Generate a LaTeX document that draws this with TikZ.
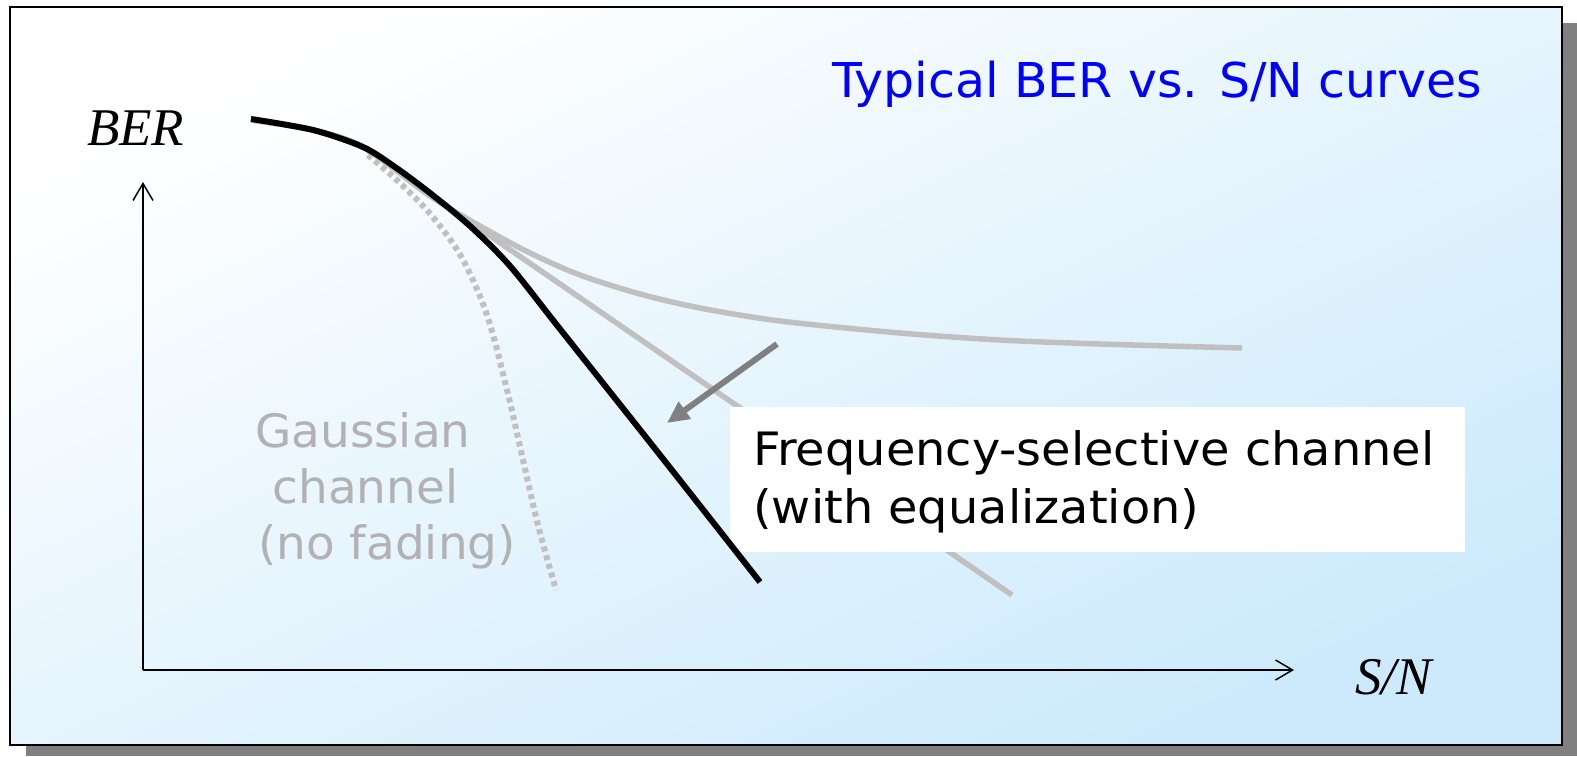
\documentclass[tikz,border=0pt]{standalone}
\usepackage{fontspec}
\usetikzlibrary{arrows.meta}
\newfontfamily\verd{DejaVu Sans}
\newfontfamily\tms{Liberation Serif}
\definecolor{bgblue}{RGB}{204,234,252}
\definecolor{curvegray}{RGB}{192,192,192}
\definecolor{textgray}{RGB}{178,178,178}
\definecolor{arrgray}{RGB}{128,128,128}
\definecolor{shadowgray}{RGB}{128,128,128}
\tikzset{
  axisline/.style={line width=1.5pt, -{Straight Barb[length=17pt,width=20pt]}},
  graycurve/.style={curvegray, line width=5.5pt},
  axislabel/.style={font=\tms\itshape\fontsize{53}{60}\selectfont, anchor=base west, inner sep=0pt},
}
\begin{document}
\begin{tikzpicture}[x=1pt,y=-1pt]
\useasboundingbox (0,0) rectangle (1577,756);
% shadow and panel
\fill[shadowgray] (26,23) rectangle (1577,756);
\draw[line width=2pt, top color=white, bottom color=bgblue, shading angle=25] (10,7) rectangle (1562,745);
% title
\node[anchor=base west, inner sep=0pt, text=blue, font=\verd\fontsize{48}{56}\selectfont, xscale=1.02] (title) at (832,97.7) {Typical BER vs. S/N curves};
% axes
\coordinate (O) at (143,670);
\coordinate (Ytip) at (143,182);
\coordinate (Xtip) at (1294,670);
\draw[axisline] (O) -- (Ytip);
\draw[axisline] (O) -- (Xtip);
\node[axislabel] (ber) at (87,145) {BER};
\node[axislabel] (sn) at (1355,694) {S/N};
% gray curves
\draw[graycurve] plot[smooth, tension=0.5] coordinates {(251,120) (313,130) (363,147) (430,196) (480,226) (530,253) (580,275) (640,294) (700,308) (780,321) (900,333) (1000,340) (1100,344) (1242,348)};
\draw[graycurve] plot[smooth, tension=0.5] coordinates {(251,120) (313,130) (363,147) (430,195) (480,229) (560,284) (650,346) (1012,595)};
\draw[graycurve, line width=6pt, dash pattern=on 5pt off 4pt] plot[smooth, tension=0.55] coordinates {(368,155) (400,183) (432,216) (462,258) (487,315) (507,390) (523,460) (538,525) (556,590)};
% label box
\fill[white] (730,407) rectangle (1465,552);
\node[anchor=base west, inner sep=0pt, font=\verd\fontsize{46}{58}\selectfont, xscale=1.04] (fsc) at (753,465)
  {\begin{tabular}[t]{@{}l@{}}Frequency-selective channel\\(with equalization)\end{tabular}};
% black curve
\draw[black, line width=6pt] plot[smooth, tension=0.5] coordinates {(251,119) (313,130) (363,147) (395,167) (430,193) (470,226) (510,266) (560,329) (660,455) (760,582)};
% arrow
\coordinate (arrS) at (777,344);
\coordinate (arrE) at (667,423);
\draw[arrgray, line width=6pt, -{Triangle[length=22pt,width=20pt]}] (arrS) -- (arrE);
% gaussian label
\node[anchor=base west, inner sep=0pt, text=textgray, font=\verd\fontsize{46}{56}\selectfont, xscale=1.02] (gauss) at (255,447)
  {\begin{tabular}[t]{@{}l@{}}Gaussian\\\hspace*{17pt}channel\\\hspace*{3pt}(no fading)\end{tabular}};
\end{tikzpicture}
\end{document}
